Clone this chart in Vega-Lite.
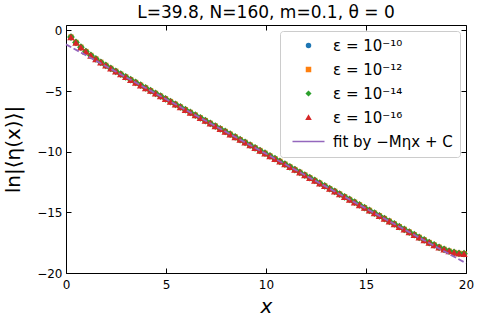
{
  "$schema": "https://vega.github.io/schema/vega-lite/v6.json",
  "width": 400,
  "height": 248,
  "autosize": {"type": "none"},
  "padding": {"left": 66, "top": 25, "right": 14, "bottom": 47},
  "title": {"text": "L=39.8, N=160, m=0.1, θ = 0", "fontSize": 17, "fontWeight": "normal", "color": "black", "offset": 2, "anchor": "middle"},
  "data": {"values": [
    {"x": 0.249, "y": -0.546}, {"x": 0.498, "y": -0.986}, {"x": 0.746, "y": -1.382}, {"x": 0.995, "y": -1.738},
    {"x": 1.244, "y": -2.059}, {"x": 1.493, "y": -2.351}, {"x": 1.741, "y": -2.623}, {"x": 1.990, "y": -2.880},
    {"x": 2.239, "y": -3.127}, {"x": 2.488, "y": -3.365}, {"x": 2.736, "y": -3.600}, {"x": 2.985, "y": -3.830},
    {"x": 3.234, "y": -4.059}, {"x": 3.483, "y": -4.286}, {"x": 3.731, "y": -4.512}, {"x": 3.980, "y": -4.738},
    {"x": 4.229, "y": -4.963}, {"x": 4.478, "y": -5.188}, {"x": 4.726, "y": -5.413}, {"x": 4.975, "y": -5.637},
    {"x": 5.224, "y": -5.862}, {"x": 5.473, "y": -6.086}, {"x": 5.721, "y": -6.311}, {"x": 5.970, "y": -6.535},
    {"x": 6.219, "y": -6.759}, {"x": 6.468, "y": -6.984}, {"x": 6.716, "y": -7.208}, {"x": 6.965, "y": -7.432},
    {"x": 7.214, "y": -7.657}, {"x": 7.463, "y": -7.881}, {"x": 7.711, "y": -8.106}, {"x": 7.960, "y": -8.330},
    {"x": 8.209, "y": -8.554}, {"x": 8.458, "y": -8.779}, {"x": 8.706, "y": -9.003}, {"x": 8.955, "y": -9.227},
    {"x": 9.204, "y": -9.452}, {"x": 9.453, "y": -9.676}, {"x": 9.701, "y": -9.901}, {"x": 9.950, "y": -10.125},
    {"x": 10.199, "y": -10.349}, {"x": 10.448, "y": -10.574}, {"x": 10.696, "y": -10.798}, {"x": 10.945, "y": -11.022},
    {"x": 11.194, "y": -11.247}, {"x": 11.443, "y": -11.471}, {"x": 11.691, "y": -11.696}, {"x": 11.940, "y": -11.920},
    {"x": 12.189, "y": -12.144}, {"x": 12.438, "y": -12.369}, {"x": 12.686, "y": -12.593}, {"x": 12.935, "y": -12.817},
    {"x": 13.184, "y": -13.042}, {"x": 13.433, "y": -13.266}, {"x": 13.681, "y": -13.491}, {"x": 13.930, "y": -13.715},
    {"x": 14.179, "y": -13.939}, {"x": 14.428, "y": -14.164}, {"x": 14.676, "y": -14.388}, {"x": 14.925, "y": -14.612},
    {"x": 15.174, "y": -14.837}, {"x": 15.423, "y": -15.061}, {"x": 15.671, "y": -15.286}, {"x": 15.920, "y": -15.510},
    {"x": 16.169, "y": -15.733}, {"x": 16.418, "y": -15.957}, {"x": 16.666, "y": -16.180}, {"x": 16.915, "y": -16.403},
    {"x": 17.164, "y": -16.625}, {"x": 17.413, "y": -16.845}, {"x": 17.661, "y": -17.063}, {"x": 17.910, "y": -17.278},
    {"x": 18.159, "y": -17.487}, {"x": 18.408, "y": -17.688}, {"x": 18.656, "y": -17.877}, {"x": 18.905, "y": -18.049},
    {"x": 19.154, "y": -18.196}, {"x": 19.403, "y": -18.309}, {"x": 19.651, "y": -18.382}, {"x": 19.900, "y": -18.407}
  ]},
  "layer": [
    {
      "mark": {"type": "point", "filled": true, "size": 30, "opacity": 1},
      "encoding": {
        "x": {"field": "x", "type": "quantitative", "scale": {"domain": [0, 20], "nice": false}, "title": "x",
              "axis": {"orient": "bottom", "values": [0, 5, 10, 15, 20], "tickSize": -5, "labelPadding": 11, "titleFontSize": 20, "titleFontStyle": "italic", "titlePadding": 6}},
        "y": {"field": "y", "type": "quantitative", "scale": {"domain": [-20, 0.45], "nice": false, "zero": false}, "title": "ln|⟨η(x)⟩|",
              "axis": {"orient": "left", "values": [0, -5, -10, -15, -20], "tickSize": -5, "labelPadding": 9, "titleFontSize": 20, "titlePadding": 13}},
        "color": {"datum": "ε = 10⁻¹⁰", "type": "nominal",
                  "scale": {"domain": ["ε = 10⁻¹⁰", "ε = 10⁻¹²", "ε = 10⁻¹⁴", "ε = 10⁻¹⁶", "fit by −Mηx + C"], "range": ["#1f77b4", "#ff7f0e", "#2ca02c", "#d62728", "#9467bd"]},
                  "legend": {"title": null, "orient": "top-right", "offset": 6,
                    "encode": {"symbols": {"update": {
                      "shape": {"scale": "shape", "field": "value"},
                      "fill": {"scale": "color", "field": "value"},
                      "stroke": {"scale": "color", "field": "value"},
                      "strokeWidth": {"value": 1.5},
                      "strokeDash": {"value": []},
                      "opacity": {"value": 1}
                    }}}}},
        "shape": {"datum": "ε = 10⁻¹⁰", "type": "nominal",
                  "scale": {"domain": ["ε = 10⁻¹⁰", "ε = 10⁻¹²", "ε = 10⁻¹⁴", "ε = 10⁻¹⁶", "fit by −Mηx + C"], "range": ["circle", "square", "diamond", "triangle-up", "M-8,0H8"]},
                  "legend": null}
      }
    },
    {
      "mark": {"type": "point", "filled": true, "size": 28, "opacity": 1},
      "encoding": {
        "x": {"field": "x", "type": "quantitative", "axis": null},
        "y": {"field": "y", "type": "quantitative", "axis": null},
        "color": {"datum": "ε = 10⁻¹²", "type": "nominal"},
        "shape": {"datum": "ε = 10⁻¹²", "type": "nominal", "legend": null}
      }
    },
    {
      "mark": {"type": "point", "filled": true, "size": 60, "opacity": 1},
      "encoding": {
        "x": {"field": "x", "type": "quantitative", "axis": null},
        "y": {"field": "y", "type": "quantitative", "axis": null},
        "color": {"datum": "ε = 10⁻¹⁴", "type": "nominal"},
        "shape": {"datum": "ε = 10⁻¹⁴", "type": "nominal", "legend": null}
      }
    },
    {
      "mark": {"type": "point", "filled": true, "size": 55, "opacity": 1},
      "encoding": {
        "x": {"field": "x", "type": "quantitative", "axis": null},
        "y": {"field": "y", "type": "quantitative", "axis": null},
        "color": {"datum": "ε = 10⁻¹⁶", "type": "nominal"},
        "shape": {"datum": "ε = 10⁻¹⁶", "type": "nominal", "legend": null}
      }
    },
    {
      "data": {"values": [{"x": 0, "y": -1.15}, {"x": 20, "y": -19.19}]},
      "mark": {"type": "line", "strokeDash": [6, 2.6], "strokeWidth": 1.8},
      "encoding": {
        "x": {"field": "x", "type": "quantitative",
              "axis": {"orient": "top", "values": [0, 5, 10, 15, 20], "tickSize": -5, "labels": false, "title": null}},
        "y": {"field": "y", "type": "quantitative",
              "axis": {"orient": "right", "values": [0, -5, -10, -15, -20], "tickSize": -5, "labels": false, "title": null}},
        "color": {"datum": "fit by −Mηx + C", "type": "nominal"}
      }
    }
  ],
  "config": {
    "font": "DejaVu Sans",
    "view": {"stroke": "black", "strokeWidth": 1},
    "axis": {"grid": false, "domain": false, "tickColor": "black", "tickWidth": 1, "labelColor": "black", "labelFontSize": 12, "titleColor": "black", "titleFontWeight": "normal", "labelFlush": false},
    "legend": {"fillColor": "white", "strokeColor": "#cccccc", "cornerRadius": 3, "padding": 7, "labelFontSize": 15, "labelColor": "black", "rowPadding": 8, "labelOffset": 17, "symbolOffset": 14, "symbolSize": 16, "symbolStrokeWidth": 1.5}
  }
}
